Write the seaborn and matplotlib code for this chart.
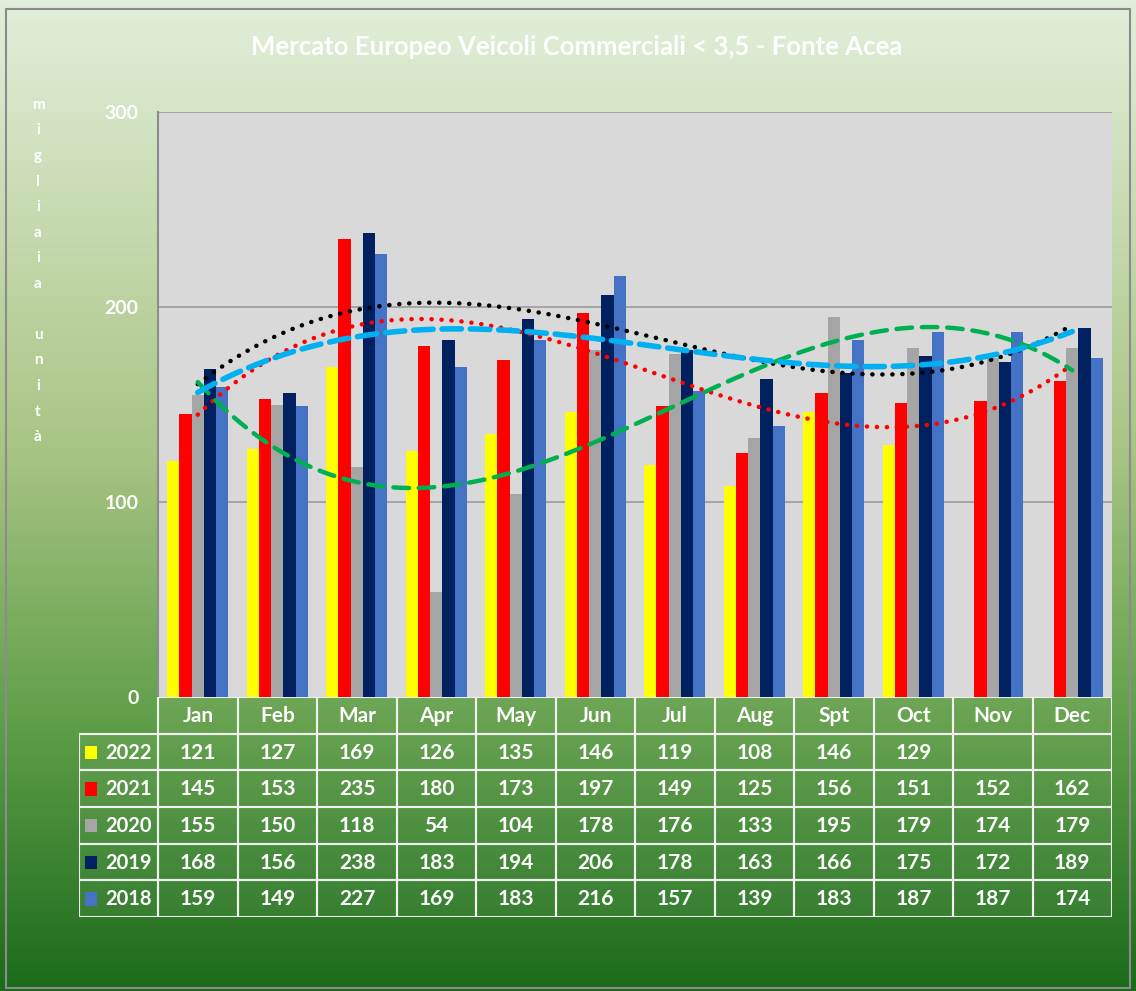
import numpy as np
import pandas as pd
import matplotlib.pyplot as plt
import matplotlib.colors as mcolors
from matplotlib.patches import Rectangle
import seaborn as sns

months = ["Jan", "Feb", "Mar", "Apr", "May", "Jun", "Jul", "Aug", "Spt", "Oct", "Nov", "Dec"]
years = ["2022", "2021", "2020", "2019", "2018"]
v2022 = [121, 127, 169, 126, 135, 146, 119, 108, 146, 129, np.nan, np.nan]
v2021 = [145, 153, 235, 180, 173, 197, 149, 125, 156, 151, 152, 162]
v2020 = [155, 150, 118, 54, 104, 178, 176, 133, 195, 179, 174, 179]
v2019 = [168, 156, 238, 183, 194, 206, 178, 163, 166, 175, 172, 189]
v2018 = [159, 149, 227, 169, 183, 216, 157, 139, 183, 187, 187, 174]
bar_colors = ["#ffff00", "#ff0000", "#a5a5a5", "#002060", "#4472c4"]

series = dict(zip(years, [v2022, v2021, v2020, v2019, v2018]))
df = pd.DataFrame([(m, y, series[y][i]) for y in years for i, m in enumerate(months)],
                  columns=["month", "year", "value"])

sns.set_style("white")
plt.rcParams["font.family"] = ["Lato", "DejaVu Sans"]
plt.rcParams["font.weight"] = "bold"

W, H = 1136, 991
fig = plt.figure(figsize=(W / 100, H / 100), dpi=100)

# background gradient (light green at the top, dark green at the bottom)
bg = fig.add_axes([0, 0, 1, 1], zorder=-10)
cmap = mcolors.LinearSegmentedColormap.from_list(
    "bg", [(0, "#e2efda"), (0.45, "#a9c585"), (0.72, "#62a04a"), (1, "#1b6b1b")])
bg.imshow(np.linspace(0, 1, 256).reshape(-1, 1), aspect="auto", cmap=cmap,
          extent=[0, 1, 0, 1], origin="upper")
bg.set_xlim(0, 1)
bg.set_ylim(0, 1)
bg.add_patch(Rectangle((6 / W, 1 - 988 / H), 1124 / W, 979 / H, fill=False,
                       edgecolor="#8c8c8c", lw=1.5))
bg.axis("off")

def fx(px):
    return px / W

def fy(py):
    return 1 - py / H

ax = fig.add_axes([fx(158), fy(697), fx(1112) - fx(158), fy(112) - fy(697)])
ax.set_facecolor("#d9d9d9")
sns.barplot(data=df, x="month", y="value", hue="year", hue_order=years,
            palette=bar_colors, width=0.77, saturation=1, errorbar=None,
            linewidth=0, legend=False, ax=ax, zorder=3)
ax.set_ylim(0, 300)
ax.set_xlim(-0.5, 11.5)
ax.set_yticks([0, 100, 200, 300])
ax.set_yticklabels(["0", "100", "200", "300"], color="white", fontsize=14,
                   fontweight="bold")
ax.tick_params(axis="y", length=6, color="#8c8c8c", width=1.2, pad=8)
ax.set_xticks([])
ax.set_xlabel("")
ax.set_ylabel("")
for yv in [100, 200, 300]:
    ax.axhline(yv, color="#a0a0a0", lw=1.3, zorder=1)
for s in ["top", "right", "bottom"]:
    ax.spines[s].set_visible(False)
ax.spines["left"].set_color("#8c8c8c")
ax.spines["left"].set_linewidth(1.5)

# polynomial trendlines (order 3)
xs = np.linspace(0, 11, 300)
trends = [
    ("2021", "#ff0000", (0, (0.05, 2.2)), 3.2),
    ("2019", "#000000", (0, (0.05, 2.2)), 3.2),
    ("2020", "#00b050", (0, (3.5, 2.2)), 3.2),
    ("2018", "#00b0f0", (0, (3.5, 1.6)), 4.0),
]
for yr, col, ls, lw in trends:
    coef = np.polyfit(np.arange(12), series[yr], 3)
    ax.plot(xs, np.polyval(coef, xs), color=col, linestyle=ls, lw=lw,
            dash_capstyle="round", solid_capstyle="round", zorder=5)

# data table
tab = fig.add_axes([fx(79), fy(917), fx(1112) - fx(79), fy(697) - fy(917)])
tab.set_xlim(-1.5, 11.5)
tab.set_ylim(6, 0)
tab.axis("off")
lc = "#f0f0f0"
fs = 15
for i, m in enumerate(months):
    tab.add_patch(Rectangle((i - 0.5, 0), 1, 1, facecolor=(1, 1, 1, 0.05),
                            edgecolor=lc, lw=1.5))
    tab.text(i, 0.52, m, ha="center", va="center", color="white",
             fontsize=fs, fontweight="bold")
for r, yr in enumerate(years):
    row = r + 1
    tab.add_patch(Rectangle((-1.5, row), 1, 1, facecolor=(1, 1, 1, 0.05),
                            edgecolor=lc, lw=1.5))
    tab.add_patch(Rectangle((-1.43, row + 0.33), 0.16, 0.36,
                            facecolor=bar_colors[r], edgecolor="none"))
    tab.text(-0.59, row + 0.52, yr, ha="right", va="center", color="white",
             fontsize=14.5, fontweight="bold")
    for i, v in enumerate(series[yr]):
        tab.add_patch(Rectangle((i - 0.5, row), 1, 1, facecolor=(1, 1, 1, 0.05),
                                edgecolor=lc, lw=1.5))
        if not np.isnan(v):
            tab.text(i, row + 0.52, f"{int(v)}", ha="center", va="center",
                     color="white", fontsize=fs, fontweight="bold")

# title and vertical axis label
fig.text(fx(577), fy(47), "Mercato Europeo Veicoli Commerciali < 3,5 - Fonte Acea",
         ha="center", va="center", color="white", fontsize=18.5, fontweight="bold")
fig.text(fx(38), fy(271), "\n".join(list("migliaia unità")), ha="center",
         va="center", color="white", fontsize=11, fontweight="bold",
         linespacing=2.05)

fig.savefig("out.png", dpi=100)
